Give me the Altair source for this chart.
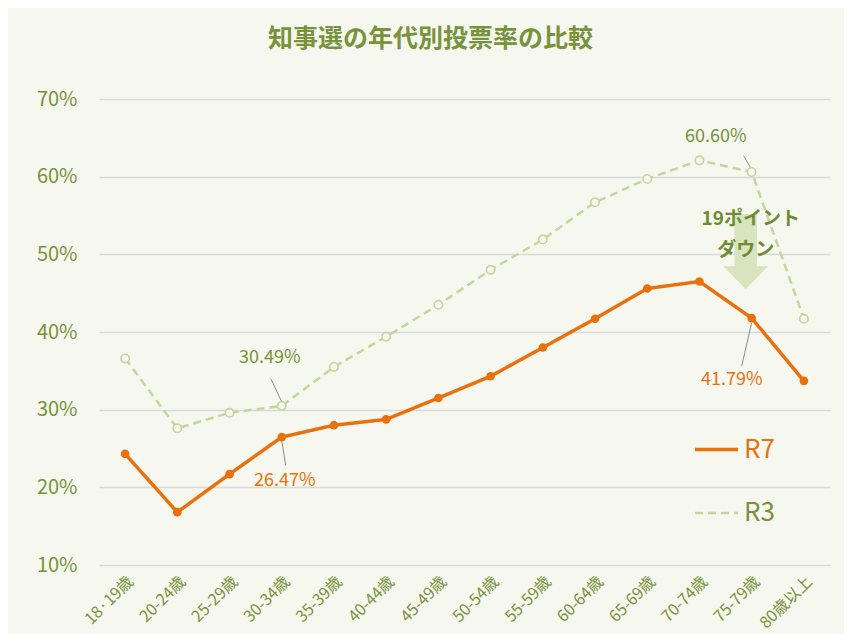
import altair as alt
import pandas as pd

# ---- data ----
categories = ["18·19歳", "20-24歳", "25-29歳", "30-34歳", "35-39歳", "40-44歳",
              "45-49歳", "50-54歳", "55-59歳", "60-64歳", "65-69歳", "70-74歳",
              "75-79歳", "80歳以上"]
r7_values = [24.3, 16.8, 21.7, 26.47, 28.0, 28.75, 31.5, 34.3, 38.0, 41.7, 45.6, 46.5, 41.79, 33.7]
r3_values = [36.6, 27.6, 29.6, 30.49, 35.5, 39.4, 43.5, 48.0, 51.9, 56.7, 59.7, 62.1, 60.60, 41.7]
series_names = ["R7", "R3"]

title_text = "知事選の年代別投票率の比較"
callout_lines = ["19ポイント", "ダウン"]

ORANGE = "#E8710E"
GREEN_TXT = "#77933C"
GREEN_LINE = "#C3D69B"
ARROW = "#D7E4BD"
BG = "#F6F7EF"
FONT = "Noto Sans CJK JP"

rows = []
for c, v in zip(categories, r7_values):
    rows.append({"cat": c, "series": "R7", "value": v})
for c, v in zip(categories, r3_values):
    rows.append({"cat": c, "series": "R3", "value": v})
df = pd.DataFrame(rows)

x_enc = alt.X("cat:N", sort=categories, title=None,
              axis=alt.Axis(labelAngle=-45, labelAlign="right", labelBaseline="top",
                            labelFontSize=16, labelColor=GREEN_TXT, labelFont=FONT,
                            labelPadding=8, ticks=False, domain=False, grid=False,
                            labelOverlap=False))
y_scale = alt.Scale(domain=[10, 70], nice=False, zero=False)
y_enc = alt.Y("value:Q", scale=y_scale, title=None,
              axis=alt.Axis(values=[10, 20, 30, 40, 50, 60, 70], labelExpr="datum.value + '%'",
                            labelFontSize=20, labelColor=GREEN_TXT, labelFont=FONT,
                            labelPadding=22, ticks=False, domain=False,
                            gridColor="#D9D9D9", gridWidth=1.5))

color_enc = alt.Color("series:N", scale=alt.Scale(domain=series_names, range=[ORANGE, GREEN_LINE]),
                      legend=alt.Legend(title=None, orient="none", legendX=594, legendY=327,
                                        direction="vertical", symbolType="stroke",
                                        symbolSize=1850, symbolStrokeWidth=3.5,
                                        labelFontSize=26, labelFont=FONT, rowPadding=27,
                                        labelOffset=4,
                                        labelColor={"expr": "datum.label == 'R7' ? '%s' : '%s'" % (ORANGE, GREEN_TXT)}))
dash_enc = alt.StrokeDash("series:N", scale=alt.Scale(domain=series_names, range=[[1, 0], [8, 5]]),
                          legend=None)
width_enc = alt.StrokeWidth("series:N", scale=alt.Scale(domain=series_names, range=[3.5, 2.5]),
                            legend=None)

base = alt.Chart(df)

lines = base.mark_line().encode(x=x_enc, y=y_enc, color=color_enc, strokeDash=dash_enc,
                                strokeWidth=width_enc)

pts_r7 = base.transform_filter("datum.series == 'R7'").mark_point(
    filled=True, size=75, color=ORANGE, opacity=1).encode(x=x_enc, y=y_enc)
pts_r3 = base.transform_filter("datum.series == 'R3'").mark_point(
    filled=False, size=70, stroke=GREEN_LINE, fill=BG, strokeWidth=1.6, opacity=1).encode(x=x_enc, y=y_enc)

# ---- arrow (drawn behind the callout text) ----
arrow_df = pd.DataFrame({"cat": ["75-79歳"], "value": [50.36]})
arrow_path = "M-0.5,-1.67 L0.5,-1.67 L0.5,0.65 L1,0.65 L0,1.67 L-1,0.65 L-0.5,0.65 Z"
arrow = alt.Chart(arrow_df).mark_point(shape=arrow_path, size=2025, filled=True, fill=ARROW,
                                       opacity=1, strokeWidth=0, xOffset=-6).encode(
    x=alt.X("cat:N", sort=categories), y=alt.Y("value:Q", scale=y_scale))

callout_df = pd.DataFrame({"cat": ["75-79歳", "75-79歳"], "value": [54.6, 50.5], "text": callout_lines})
callout1 = alt.Chart(callout_df.iloc[[0]]).mark_text(font=FONT, fontSize=19, fontWeight="bold",
                                                     color="#6E8B35", dx=-1).encode(
    x=alt.X("cat:N", sort=categories), y=alt.Y("value:Q", scale=y_scale), text="text:N")
callout2 = alt.Chart(callout_df.iloc[[1]]).mark_text(font=FONT, fontSize=19, fontWeight="bold",
                                                     color="#6E8B35", dx=-6).encode(
    x=alt.X("cat:N", sort=categories), y=alt.Y("value:Q", scale=y_scale), text="text:N")

# ---- value annotations with leader lines ----
annotations = [
    # text, category, color, label y, label dx, leader y1, leader y2, leader offset at y2
    ("30.49%", "30-34歳", GREEN_TXT, 36.7, -12, 31.0, 34.0, -11),
    ("26.47%", "30-34歳", ORANGE, 20.8, 3, 26.0, 22.8, 4),
    ("60.60%", "75-79歳", GREEN_TXT, 65.1, -36, 60.9, 62.7, -8),
    ("41.79%", "75-79歳", ORANGE, 33.8, -20, 41.2, 35.6, -10),
]
annot_layers = []
for txt, cat, col, ly, ldx, y1, y2, off in annotations:
    d = pd.DataFrame({"cat": [cat], "value": [ly], "text": [txt], "y1": [y1], "y2": [y2]})
    c = alt.Chart(d)
    annot_layers.append(
        c.mark_rule(color="#8C8C8C", strokeWidth=1, xOffset=0, x2Offset=off).encode(
            x=alt.X("cat:N", sort=categories), x2="cat:N",
            y=alt.Y("y1:Q", scale=y_scale), y2="y2:Q"))
    annot_layers.append(
        c.mark_text(font=FONT, fontSize=18, color=col, dx=ldx).encode(
            x=alt.X("cat:N", sort=categories), y=alt.Y("value:Q", scale=y_scale), text="text:N"))

chart = alt.layer(lines, arrow, callout1, callout2, *annot_layers, pts_r7, pts_r3).properties(
    width=731, height=466,
    title=alt.Title(title_text, font=FONT, fontSize=25, fontWeight="bold", color=GREEN_TXT,
                    anchor="middle", dx=-34, offset=37),
    background=BG,
    padding={"left": 91, "top": 91, "right": 14, "bottom": 69},
    autosize=alt.AutoSizeParams(type="none"),
).configure_view(stroke=None).configure_axis(labelFont=FONT)

chart.save("out.html", embed_options={"renderer": "svg", "actions": False})
